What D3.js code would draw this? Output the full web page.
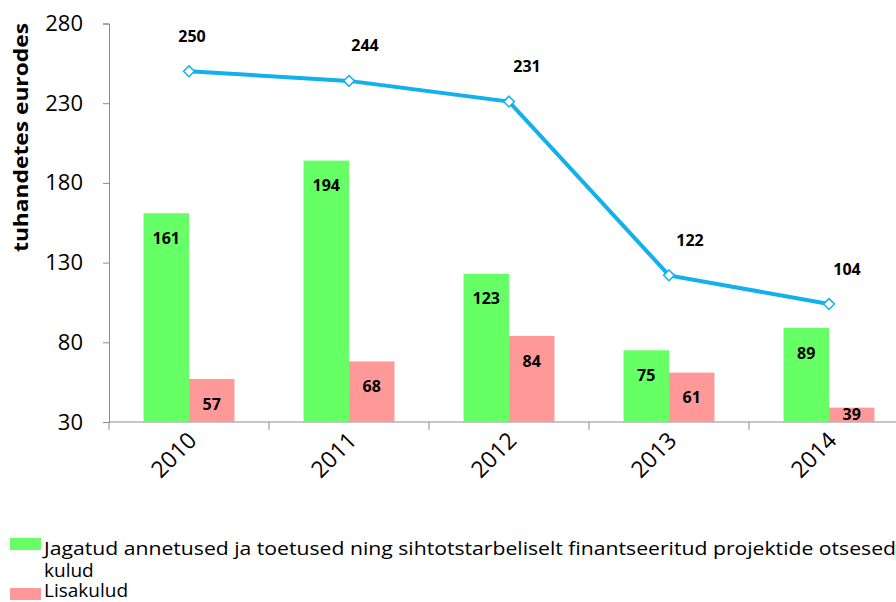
<!DOCTYPE html>
<html>
<head>
<meta charset="utf-8">
<script src="https://cdn.jsdelivr.net/npm/d3@7"></script>
<style>
  body { margin: 0; background: #fff; }
  svg { display: block; font-family: "Open Sans", "Liberation Sans", sans-serif; }
  .axis path, .axis line { stroke: #8c8c8c; }
  .axis text { fill: #000; }
</style>
</head>
<body>
<div id="vis"></div>
<script>
// chart values
const years = ['2010', '2011', '2012', '2013', '2014'];
const grants = [161, 194, 123, 75, 89];
const extraCosts = [57, 68, 84, 61, 39];
const totals = [250, 244, 231, 122, 104];
const yTicks = [30, 80, 130, 180, 230, 280];
const legendLabels = ['Jagatud annetused ja toetused ning sihtotstarbeliselt finantseeritud projektide otsesed', 'kulud', 'Lisakulud'];

const W = 896, H = 602;
const plot = { left: 109, top: 23.5, right: 909, bottom: 422 };
// horizontal nudge of the line labels, as placed in the original
const lineLabelDx = [3, 16, 18, 21, 18];

const svg = d3.select('#vis')
    .append('svg')
    .attr('width', W)
    .attr('height', H);

const xScale = d3.scaleBand()
    .domain(years)
    .range([plot.left, plot.right]);

const barX = d3.scaleBand()
    .domain(['grants', 'extra'])
    .range([0, xScale.bandwidth()])
    .paddingOuter(0.76)
    .paddingInner(0);

const yScale = d3.scaleLinear()
    .domain([30, 280])
    .range([plot.bottom, plot.top]);

// y axis
const yAxis = svg.append('g')
    .attr('class', 'axis')
    .attr('transform', `translate(${plot.left},0)`)
    .call(d3.axisLeft(yScale).tickValues(yTicks).tickSize(6).tickPadding(20));
yAxis.selectAll('text')
    .style('font-size', '22px')
    .style('font-family', '"Open Sans", sans-serif');

// x axis, ticks between categories
const xAxisG = svg.append('g')
    .attr('class', 'axis')
    .attr('transform', `translate(0,${plot.bottom})`);
xAxisG.append('line')
    .attr('x1', plot.left).attr('x2', plot.right)
    .attr('y1', 0).attr('y2', 0);
xAxisG.selectAll('.tick-mark')
    .data(years)
    .join('line')
    .attr('class', 'tick-mark')
    .attr('x1', d => xScale(d)).attr('x2', d => xScale(d))
    .attr('y1', 0).attr('y2', 8);
xAxisG.selectAll('.tick-label')
    .data(years)
    .join('text')
    .attr('class', 'tick-label')
    .attr('text-anchor', 'end')
    .attr('transform', d => `translate(${xScale(d) + xScale.bandwidth() / 2 + 9},${20}) rotate(-45)`)
    .style('font-size', '23px')
    .text(d => d);

// y axis title
svg.append('text')
    .attr('transform', `translate(28,137.5) rotate(-90)`)
    .attr('text-anchor', 'middle')
    .attr('textLength', 229)
    .attr('lengthAdjust', 'spacingAndGlyphs')
    .style('font-size', '20px')
    .style('font-weight', 'bold')
    .text('tuhandetes eurodes');

// bars
const groups = svg.selectAll('.year')
    .data(years)
    .join('g')
    .attr('class', 'year')
    .attr('transform', d => `translate(${xScale(d)},0)`);

const series = [
    { key: 'grants', values: grants, color: '#66ff66' },
    { key: 'extra', values: extraCosts, color: '#ff9999' }
];

series.forEach(s => {
    groups.append('rect')
        .attr('x', barX(s.key))
        .attr('width', barX.bandwidth())
        .attr('y', (d, i) => yScale(s.values[i]))
        .attr('height', (d, i) => plot.bottom - yScale(s.values[i]))
        .attr('fill', s.color);

    groups.append('text')
        .attr('x', barX(s.key) + barX.bandwidth() / 2)
        .attr('y', (d, i) => Math.min(yScale(s.values[i]) + 25, plot.bottom - 8))
        .attr('dy', '0.35em')
        .attr('text-anchor', 'middle')
        .style('font-size', '16px')
        .style('font-weight', 'bold')
        .text((d, i) => s.values[i]);
});

// line
const cx = d => xScale(d) + xScale.bandwidth() / 2;
const line = d3.line()
    .x((d, i) => cx(years[i]))
    .y(d => yScale(d));

svg.append('path')
    .datum(totals)
    .attr('d', line)
    .attr('fill', 'none')
    .attr('stroke', '#12b0ec')
    .attr('stroke-width', 4);

svg.selectAll('.marker')
    .data(totals)
    .join('path')
    .attr('class', 'marker')
    .attr('d', d3.symbol(d3.symbolDiamond2, 75))
    .attr('transform', (d, i) => `translate(${cx(years[i])},${yScale(d)})`)
    .attr('fill', '#fff')
    .attr('stroke', '#12b0ec')
    .attr('stroke-width', 1.5);

svg.selectAll('.line-label')
    .data(totals)
    .join('text')
    .attr('class', 'line-label')
    .attr('x', (d, i) => cx(years[i]) + lineLabelDx[i])
    .attr('y', d => yScale(d) - 35)
    .attr('dy', '0.35em')
    .attr('text-anchor', 'middle')
    .style('font-size', '16px')
    .style('font-weight', 'bold')
    .text(d => d);

// legend
const legend = svg.append('g');
legend.append('rect')
    .attr('x', 10).attr('y', 538).attr('width', 31).attr('height', 12)
    .attr('fill', '#66ff66');
legend.append('text')
    .attr('x', 44).attr('y', 555)
    .attr('textLength', 852)
    .attr('lengthAdjust', 'spacingAndGlyphs')
    .style('font-size', '19px')
    .text(legendLabels[0]);
legend.append('text')
    .attr('x', 44).attr('y', 577)
    .style('font-size', '19px')
    .text(legendLabels[1]);
legend.append('rect')
    .attr('x', 10).attr('y', 588).attr('width', 31).attr('height', 12)
    .attr('fill', '#ff9999');
legend.append('text')
    .attr('x', 44).attr('y', 597)
    .style('font-size', '19px')
    .text(legendLabels[2]);
</script>
</body>
</html>
